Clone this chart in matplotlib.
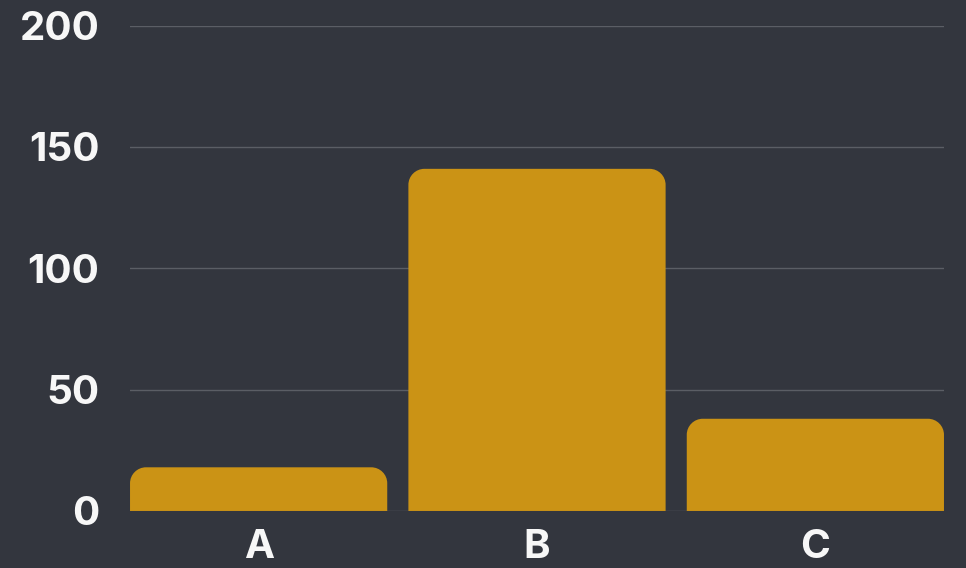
import numpy as np
import matplotlib
matplotlib.use('Agg')
import matplotlib.pyplot as plt
from matplotlib.path import Path
from matplotlib.patches import PathPatch

categories = ['A', 'B', 'C']
values = [18, 141, 38]
yticks = [0, 50, 100, 150, 200]

BG = '#33363e'
BAR = '#cb9315'
GRID = '#5b5e65'
TEXT = '#f7f7f7'

plt.rcParams['font.family'] = ['Inter', 'DejaVu Sans']

fig = plt.figure(figsize=(9.66, 5.68), dpi=100, facecolor=BG)
ax = fig.add_axes([0.1346, 0.1004, 0.8426, 0.8544], facecolor=BG)

width = 0.924
x = np.arange(len(categories))
bars = ax.bar(x, values, width=width, color=BAR, zorder=3)
ax.set_xlim(-width / 2, len(categories) - 1 + width / 2)
ax.set_ylim(0, 200)

# swap the square bars for ones with rounded top corners (radius in pixels)
fig.canvas.draw()
radius_px = 16
bbox = ax.get_window_extent()
rx = radius_px * (ax.get_xlim()[1] - ax.get_xlim()[0]) / bbox.width
ry = radius_px * (ax.get_ylim()[1] - ax.get_ylim()[0]) / bbox.height
k = 0.5523
for b in bars:
    x0, y0 = b.get_x(), b.get_y()
    w, h = b.get_width(), b.get_height()
    x1, y1 = x0 + w, y0 + h
    verts = [(x0, y0), (x0, y1 - ry),
             (x0, y1 - ry + k * ry), (x0 + rx - k * rx, y1), (x0 + rx, y1),
             (x1 - rx, y1),
             (x1 - rx + k * rx, y1), (x1, y1 - ry + k * ry), (x1, y1 - ry),
             (x1, y0), (x0, y0)]
    codes = [Path.MOVETO, Path.LINETO,
             Path.CURVE4, Path.CURVE4, Path.CURVE4,
             Path.LINETO,
             Path.CURVE4, Path.CURVE4, Path.CURVE4,
             Path.LINETO, Path.CLOSEPOLY]
    ax.add_patch(PathPatch(Path(verts, codes), facecolor=BAR, edgecolor='none', zorder=3))
    b.set_visible(False)

ax.set_yticks(yticks)
ax.set_xticks(x)
ax.set_xticklabels(categories)
ax.grid(axis='y', color=GRID, linewidth=1, zorder=0)
for s in ax.spines.values():
    s.set_visible(False)
ax.tick_params(axis='both', length=0, labelsize=29, labelcolor=TEXT)
ax.tick_params(axis='y', pad=22)
ax.tick_params(axis='x', pad=13)
for lab in ax.get_xticklabels() + ax.get_yticklabels():
    lab.set_fontweight('bold')

fig.savefig('out.png', dpi=100, facecolor=BG)
